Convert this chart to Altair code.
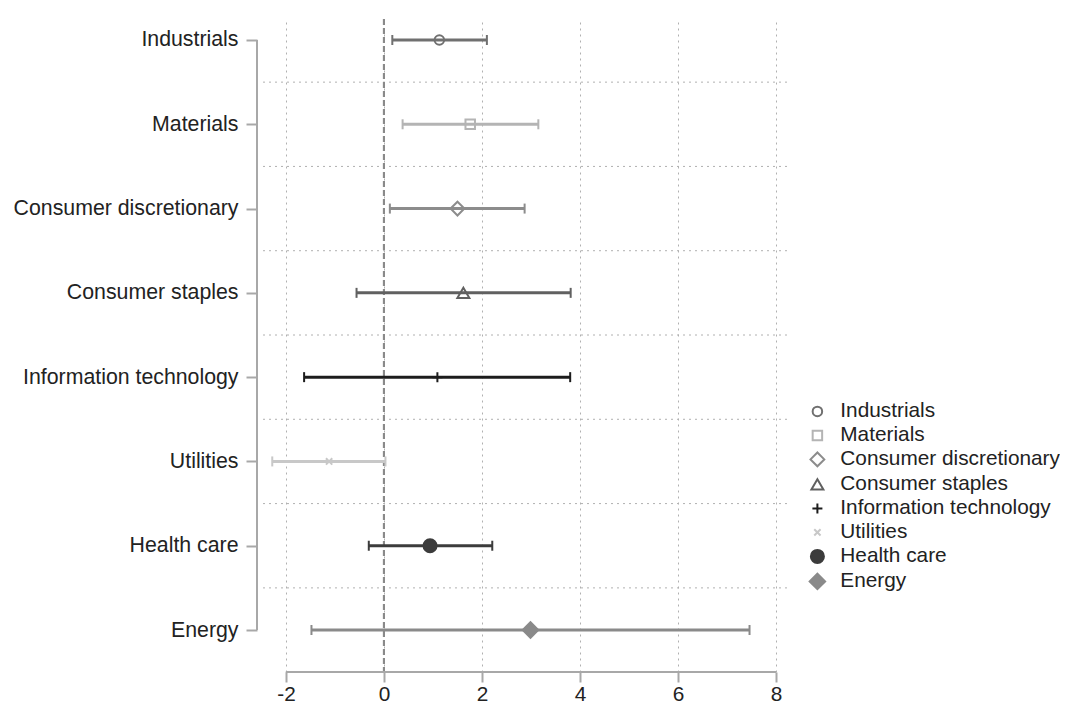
import altair as alt
import pandas as pd

categories = ["Industrials", "Materials", "Consumer discretionary", "Consumer staples",
              "Information technology", "Utilities", "Health care", "Energy"]
estimates = [1.13, 1.76, 1.50, 1.62, 1.09, -1.12, 0.94, 2.99]
ci_low = [0.17, 0.38, 0.12, -0.56, -1.63, -2.28, -0.31, -1.48]
ci_high = [2.10, 3.15, 2.87, 3.81, 3.80, 0.03, 2.21, 7.46]
x_ticks = [-2, 0, 2, 4, 6, 8]

# styles
colors = ["#707070", "#b4b4b4", "#8c8c8c", "#606060", "#1c1c1c", "#c8c8c8", "#3c3c3c", "#8a8a8a"]
fills = ["transparent"] * 6 + ["#3c3c3c", "#8a8a8a"]
shapes = ["circle", "square", "diamond", "triangle-up",
          "M-1,0H1M0,-1V1", "M-1,-1L1,1M-1,1L1,-1", "circle", "diamond"]
sizes = [90, 90, 190, 144, 100, 40, 170, 240]

W, H = 527, 653
FONT = "Liberation Sans"
FS = 21.3
GRID = "#b0b0b0"
AXC = "#a8a8a8"

df = pd.DataFrame({
    "sector": categories,
    "idx": list(range(len(categories))),
    "est": estimates,
    "lo": ci_low,
    "hi": ci_high,
})
mids = pd.DataFrame({"m": [i + 0.5 for i in range(len(categories) - 1)]})

xs = alt.Scale(domain=[-2.469, 8.286], nice=False, zero=False)
ys = alt.Scale(domain=[-0.249, 7.498], nice=False, zero=False, reverse=True)

label_expr = "[" + ",".join("'" + c + "'" for c in categories) + "][datum.value]"
xaxis = alt.Axis(values=x_ticks, grid=True, gridDash=[2, 4], gridColor=GRID, gridWidth=1,
                 domain=False, tickSize=10, tickWidth=2, tickColor=AXC,
                 labelFontSize=20.8, labelColor="#222222", labelPadding=2, title=None,
                 labelFont=FONT, labelExpr="'' + datum.value")
yaxis = alt.Axis(values=list(range(len(categories))), labelExpr=label_expr, grid=False,
                 domain=False, offset=6, tickSize=11, tickWidth=2, tickColor=AXC,
                 labelFontSize=FS, labelColor="#222222", labelPadding=8, title=None,
                 labelFont=FONT, labelLimit=0)

# colour scale for bars keyed by row index (separate from the legend scales)
cscale = alt.Scale(range=colors)

hgrid = alt.Chart(mids).mark_rule(strokeDash=[2, 4], color=GRID, strokeWidth=1).encode(
    y=alt.Y("m:Q", scale=ys, axis=yaxis),
    x=alt.value(0), x2=alt.value(W),
)

zero = alt.Chart(df).mark_rule(strokeDash=[6, 3], color="#8a8a8a", strokeWidth=2).encode(
    x=alt.XDatum(0, scale=xs, axis=xaxis),
    y=alt.value(0), y2=alt.value(H),
)

xline = alt.Chart(df).mark_rule(color=AXC, strokeWidth=2).encode(
    x=alt.XDatum(x_ticks[0], scale=xs, axis=xaxis),
    x2=alt.X2Datum(x_ticks[-1]),
    y=alt.value(H),
)

yline = alt.Chart(df).mark_rule(color=AXC, strokeWidth=2).encode(
    x=alt.value(-6),
    y=alt.YDatum(0, scale=ys, axis=yaxis),
    y2=alt.Y2Datum(len(categories) - 1),
)

bars = alt.Chart(df).mark_rule(strokeWidth=3, opacity=1).encode(
    x=alt.X("lo:Q", scale=xs, axis=xaxis),
    x2="hi:Q",
    y=alt.Y("idx:Q", scale=ys, axis=yaxis),
    color=alt.Color("idx:O", scale=cscale, legend=None),
)

caps = alt.Chart(df).transform_fold(["lo", "hi"], as_=["k", "v"]).mark_tick(
    orient="vertical", size=10, thickness=2, opacity=1
).encode(
    x=alt.X("v:Q", scale=xs, axis=xaxis),
    y=alt.Y("idx:Q", scale=ys, axis=yaxis),
    color=alt.Color("idx:O", scale=cscale, legend=None),
)

leg = alt.Legend(orient="none", legendX=544, legendY=382, title=None, labelFontSize=20.8,
                 labelColor="#222222", labelFont=FONT, rowPadding=2.0, padding=0,
                 labelOffset=12.5, symbolStrokeWidth=2, labelLimit=0)

points = alt.Chart(df).mark_point(opacity=1, strokeWidth=2).encode(
    x=alt.X("est:Q", scale=xs, axis=xaxis),
    y=alt.Y("idx:Q", scale=ys, axis=yaxis),
    stroke=alt.Stroke("sector:N", scale=alt.Scale(domain=categories, range=colors), legend=leg),
    fill=alt.Fill("sector:N", scale=alt.Scale(domain=categories, range=fills), legend=leg),
    shape=alt.Shape("sector:N", scale=alt.Scale(domain=categories, range=shapes), legend=leg),
    size=alt.Size("sector:N", scale=alt.Scale(type="ordinal", domain=categories, range=sizes), legend=leg),
)

chart = alt.layer(hgrid, zero, xline, yline, bars, caps, points).properties(
    width=W, height=H,
    padding={"left": 5, "top": 10, "right": 0, "bottom": 0},
    background="white",
).configure(font=FONT).configure_view(strokeWidth=0)

chart.save("out.html", embed_options={"renderer": "svg", "actions": False})
